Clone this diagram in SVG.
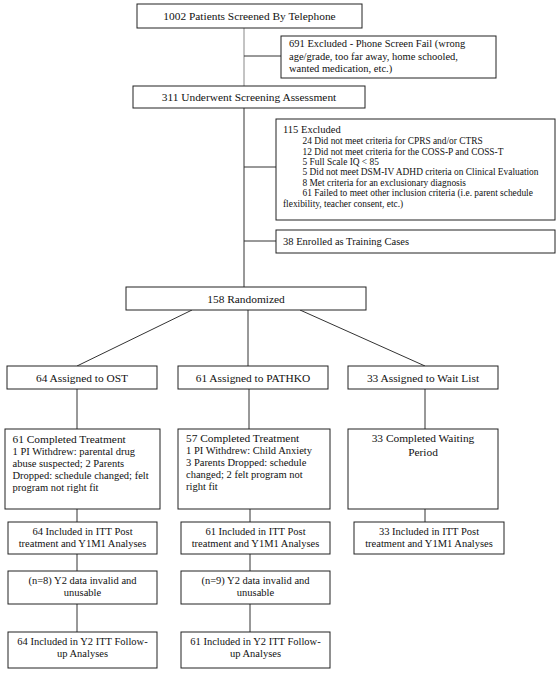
<svg xmlns="http://www.w3.org/2000/svg" width="560" height="674" viewBox="0 0 560 674">
<style>
.b{fill:#fff;stroke:#222;stroke-width:1}
.c{fill:none;stroke:#333;stroke-width:1}
text{font-family:"Liberation Serif","Times New Roman",serif;fill:#111}
.L{font-size:11.4px}
.M{font-size:10.5px}
.S{font-size:9.4px}
.m{text-anchor:middle}
</style>
<rect width="560" height="674" fill="#fff"/>
<g id="connectors">
<line class="c" x1="244" y1="28" x2="244" y2="86" stroke="#888" style="stroke:#888"/>
<line class="c" x1="244" y1="56" x2="281" y2="56"/>
<line class="c" x1="244" y1="108" x2="244" y2="287"/>
<line class="c" x1="244" y1="167" x2="276" y2="167"/>
<line class="c" x1="244" y1="241" x2="276" y2="241"/>
<line class="c" x1="192" y1="310" x2="77" y2="366"/>
<line class="c" x1="248" y1="310" x2="248" y2="366"/>
<line class="c" x1="300" y1="310" x2="425" y2="366"/>
<line class="c" x1="77" y1="389" x2="77" y2="429"/>
<line class="c" x1="249" y1="389" x2="249" y2="429"/>
<line class="c" x1="425" y1="389" x2="425" y2="429"/>
<line class="c" x1="77" y1="509" x2="77" y2="522"/>
<line class="c" x1="250" y1="509" x2="250" y2="522"/>
<line class="c" x1="425" y1="509" x2="425" y2="522"/>
<line class="c" x1="77" y1="554" x2="77" y2="571"/>
<line class="c" x1="250" y1="554" x2="250" y2="571"/>
<line class="c" x1="77" y1="604" x2="77" y2="632"/>
<line class="c" x1="250" y1="604" x2="250" y2="632"/>
</g>
<g id="screened">
<rect class="b" x="137" y="4" width="225" height="24"/>
<text class="L m" x="249.5" y="20">1002 Patients Screened By Telephone</text>
</g>
<g id="phone-excluded">
<rect class="b" x="281" y="36" width="215" height="42"/>
<text class="M" x="289" y="47">691 Excluded - Phone Screen Fail (wrong</text>
<text class="M" x="289" y="59.5">age/grade, too far away, home schooled,</text>
<text class="M" x="289" y="72">wanted medication, etc.)</text>
</g>
<g id="screening">
<rect class="b" x="133" y="86" width="232" height="22"/>
<text class="L m" x="249" y="101">311 Underwent Screening Assessment</text>
</g>
<g id="excluded">
<rect class="b" x="276" y="119" width="279" height="101"/>
<text class="M" x="283" y="133">115 Excluded</text>
<text class="S" x="302.5" y="144">24 Did not meet criteria for CPRS and/or CTRS</text>
<text class="S" x="302.5" y="154.6">12 Did not meet criteria for the COSS-P and COSS-T</text>
<text class="S" x="302.5" y="165">5 Full Scale IQ &lt; 85</text>
<text class="S" x="302.5" y="175.4">5 Did not meet DSM-IV ADHD criteria on Clinical Evaluation</text>
<text class="S" x="302.5" y="185.8">8 Met criteria for an exclusionary diagnosis</text>
<text class="S" x="302.5" y="196.2">61 Failed to meet other inclusion criteria (i.e. parent schedule</text>
<text class="S" x="283" y="206.6">flexibility, teacher consent, etc.)</text>
</g>
<g id="training">
<rect class="b" x="276" y="230" width="279" height="23"/>
<text class="M" x="283" y="245">38 Enrolled as Training Cases</text>
</g>
<g id="randomized">
<rect class="b" x="126" y="287" width="240" height="23"/>
<text class="L m" x="246" y="303">158 Randomized</text>
</g>
<g id="ost">
<rect class="b" x="7" y="366" width="150" height="23"/>
<text class="L m" x="82" y="382">64 Assigned to OST</text>
</g>
<g id="pathko">
<rect class="b" x="178" y="366" width="150" height="23"/>
<text class="L m" x="253" y="382">61 Assigned to PATHKO</text>
</g>
<g id="waitlist">
<rect class="b" x="348" y="366" width="150" height="23"/>
<text class="L m" x="423" y="382">33 Assigned to Wait List</text>
</g>
<g id="ost-completed">
<rect class="b" x="5" y="429" width="155" height="80"/>
<text class="L" x="12.5" y="443">61 Completed Treatment</text>
<text class="M" x="12.5" y="455">1 PI Withdrew: parental drug</text>
<text class="M" x="12.5" y="467">abuse suspected; 2 Parents</text>
<text class="M" x="12.5" y="478.5">Dropped: schedule changed; felt</text>
<text class="M" x="12.5" y="490.5">program not right fit</text>
</g>
<g id="pathko-completed">
<rect class="b" x="178" y="429" width="152" height="80"/>
<text class="L" x="186" y="442">57 Completed Treatment</text>
<text class="M" x="186" y="454">1 PI Withdrew: Child Anxiety</text>
<text class="M" x="186" y="466">3 Parents Dropped: schedule</text>
<text class="M" x="186" y="477.5">changed; 2 felt program not</text>
<text class="M" x="186" y="490">right fit</text>
</g>
<g id="wait-completed">
<rect class="b" x="348" y="429" width="150" height="80"/>
<text class="L m" x="423" y="442">33 Completed Waiting</text>
<text class="L m" x="423" y="455.5">Period</text>
</g>
<g id="ost-itt">
<rect class="b" x="8" y="522" width="149" height="32"/>
<text class="M m" x="82.5" y="534.5">64 Included in ITT Post</text>
<text class="M m" x="82.5" y="547">treatment and Y1M1 Analyses</text>
</g>
<g id="pathko-itt">
<rect class="b" x="181" y="522" width="149" height="32"/>
<text class="M m" x="255.5" y="534.5">61 Included in ITT Post</text>
<text class="M m" x="255.5" y="547">treatment and Y1M1 Analyses</text>
</g>
<g id="wait-itt">
<rect class="b" x="354" y="522" width="150" height="32"/>
<text class="M m" x="429" y="534.5">33 Included in ITT Post</text>
<text class="M m" x="429" y="547">treatment and Y1M1 Analyses</text>
</g>
<g id="ost-invalid">
<rect class="b" x="8" y="571" width="149" height="33"/>
<text class="M m" x="82.5" y="583.5">(n=8) Y2 data invalid and</text>
<text class="M m" x="82.5" y="596">unusable</text>
</g>
<g id="pathko-invalid">
<rect class="b" x="181" y="571" width="149" height="33"/>
<text class="M m" x="255.5" y="583.5">(n=9) Y2 data invalid and</text>
<text class="M m" x="255.5" y="596">unusable</text>
</g>
<g id="ost-y2">
<rect class="b" x="8" y="632" width="149" height="36"/>
<text class="M m" x="82.5" y="644.5">64 Included in Y2 ITT Follow-</text>
<text class="M m" x="82.5" y="657">up Analyses</text>
</g>
<g id="pathko-y2">
<rect class="b" x="181" y="632" width="149" height="36"/>
<text class="M m" x="255.5" y="644.5">61 Included in Y2 ITT Follow-</text>
<text class="M m" x="255.5" y="657">up Analyses</text>
</g>
</svg>
